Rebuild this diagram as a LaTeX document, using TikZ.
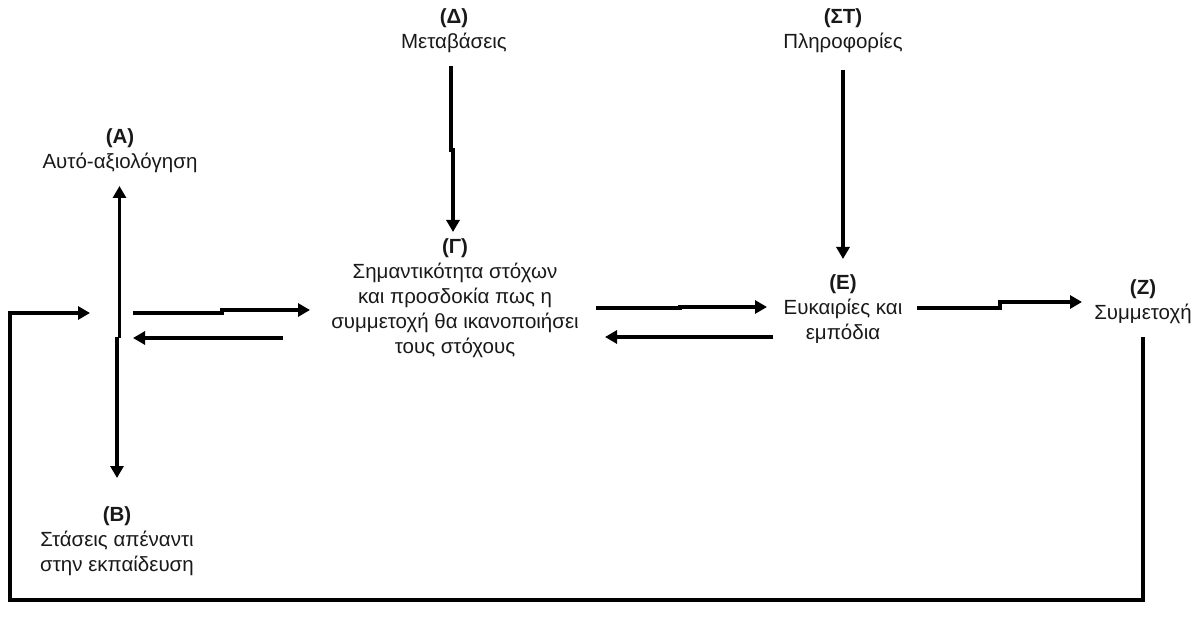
\documentclass[tikz,border=0pt]{standalone}
\usepackage{fontspec}
\setmainfont{Liberation Sans}
\usetikzlibrary{arrows.meta}
\tikzstyle{factor} = [align=center, inner sep=0pt, text=black!90, font=\fontsize{20.5}{25}\selectfont]
\tikzstyle{arrow} = [line width=3.5pt, -{Triangle[length=12pt,width=13pt]}]

\begin{document}
\begin{tikzpicture}[x=1pt, y=-1pt]
\useasboundingbox (0,0) rectangle (1198,617);

% Factors
\node[factor] (D) at (454,31) {\textbf{(Δ)}\\Μεταβάσεις};
\node[factor] (ST) at (843,31) {\textbf{(ΣΤ)}\\Πληροφορίες};
\node[factor] (A) at (120,151) {\textbf{(Α)}\\Αυτό-αξιολόγηση};
\node[factor] (G) at (455,298) {\textbf{(Γ)}\\Σημαντικότητα στόχων\\και προσδοκία πως η\\συμμετοχή θα ικανοποιήσει\\τους στόχους};
\node[factor] (E) at (843,309) {\textbf{(Ε)}\\Ευκαιρίες και\\εμπόδια};
\node[factor] (Z) at (1143,302) {\textbf{(Ζ)}\\Συμμετοχή};
\node[factor] (B) at (117,541) {\textbf{(Β)}\\Στάσεις απέναντι\\στην εκπαίδευση};

% arrow end points
\coordinate (Dout) at (451,66);
\coordinate (Gin) at (453,232);
\coordinate (STout) at (843,70);
\coordinate (Ein) at (843,259);
\coordinate (hubA) at (119.5,338);
\coordinate (Ain) at (119.5,186);
\coordinate (hubB) at (117,337);
\coordinate (Bin) at (117,478);
\coordinate (hubout) at (133,313);
\coordinate (Gleft) at (310,310);
\coordinate (Gback) at (283,338);
\coordinate (hubin) at (133,338);
\coordinate (Gout) at (596,308);
\coordinate (Eleft) at (767,307);
\coordinate (Eback) at (773,337);
\coordinate (Gright) at (605,337);
\coordinate (Eout) at (917,308);
\coordinate (Zin) at (1082,302);
\coordinate (Zout) at (1143,337);
\coordinate (loopin) at (90,313);

% vertical arrows
\draw[arrow] (Dout) -- (451,150) -- (453,150) -- (Gin);
\draw[arrow] (STout) -- (Ein);
\draw[arrow] (hubA) -- (Ain);
\draw[arrow] (hubB) -- (Bin);

% horizontal arrows
\draw[arrow] (hubout) -- (222,313) -- (222,310) -- (Gleft);
\draw[arrow] (Gback) -- (hubin);
\draw[arrow] (Gout) -- (680,308) -- (680,307) -- (Eleft);
\draw[arrow] (Eback) -- (Gright);
\draw[arrow] (Eout) -- (1000,308) -- (1000,302) -- (Zin);

% feedback loop
\draw[arrow] (Zout) -- (1143,600) -- (10,600) -- (10,313) -- (loopin);

\end{tikzpicture}
\end{document}
